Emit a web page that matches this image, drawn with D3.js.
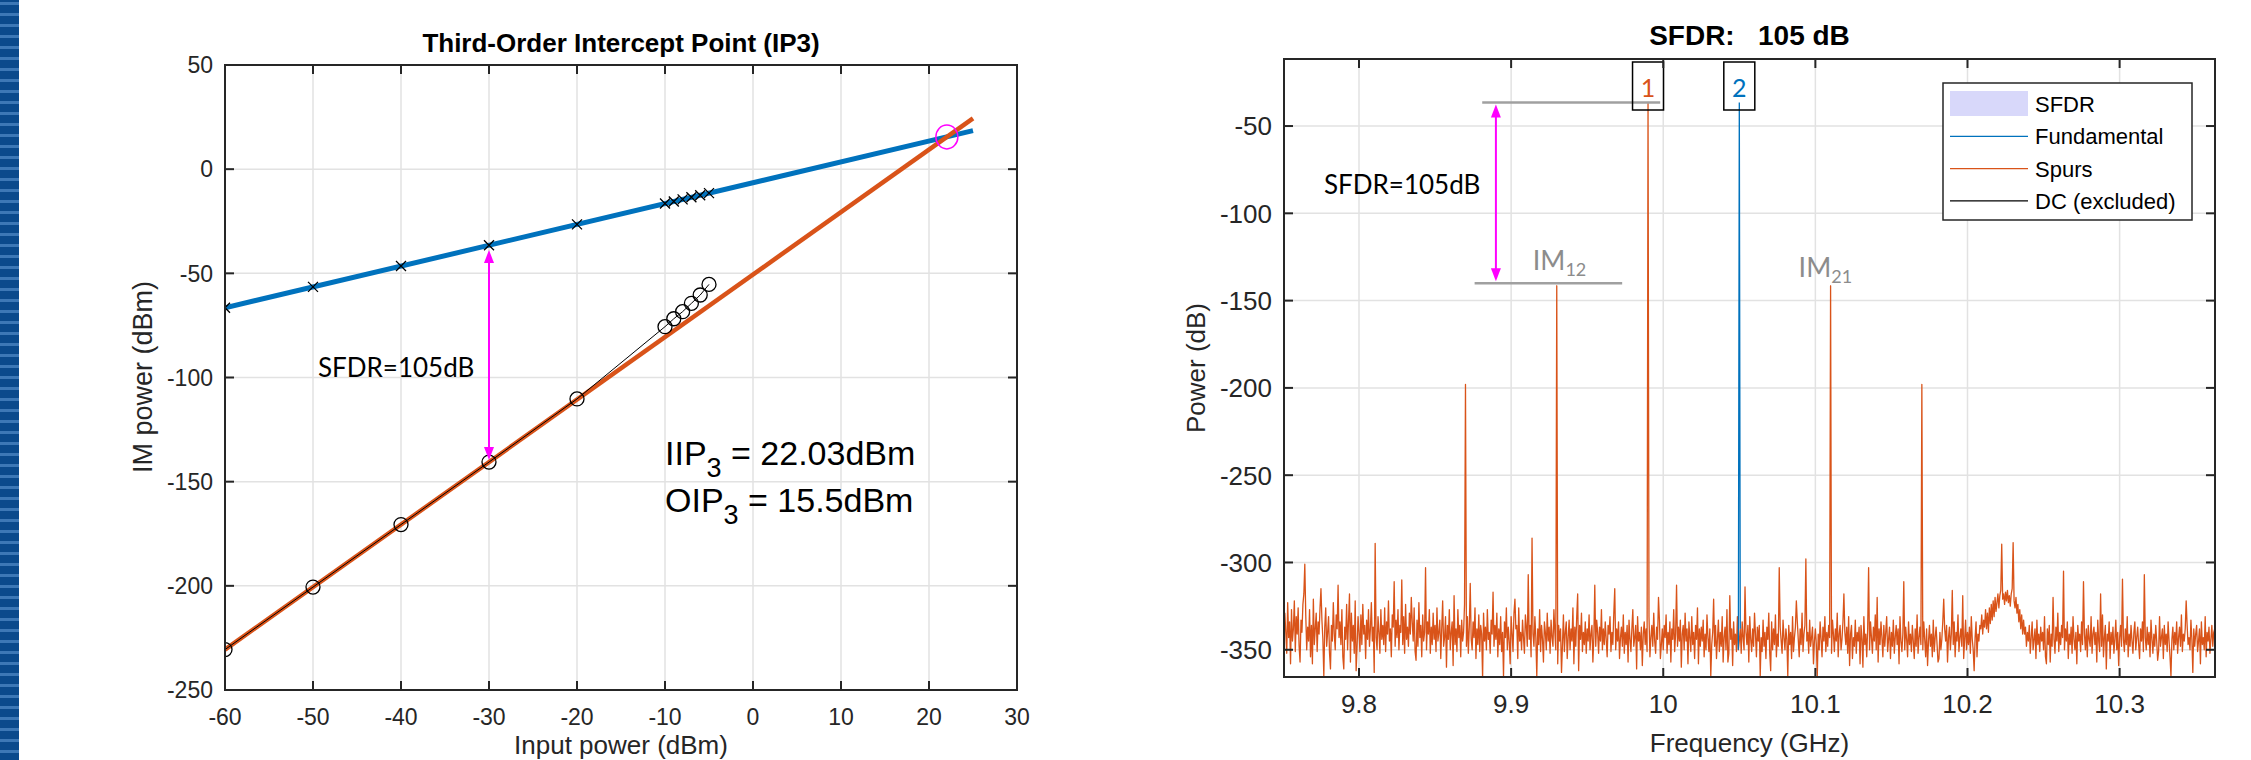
<!DOCTYPE html>
<html>
<head>
<meta charset="utf-8">
<script src="https://cdn.jsdelivr.net/npm/d3@7"></script>
<style>
  body { margin: 0; background: #fff; }
  svg { display: block; font-family: "Liberation Sans", Arial, sans-serif; }
  .grid line { stroke: #e2e2e2; stroke-width: 1.5; }
  .tick-lbl { fill: #262626; }
  .note { font-family: Lato, "Open Sans", sans-serif; }
</style>
</head>
<body>
<div id="chart"></div>
<script>

// ---------- left panel: IP3 ----------
var ip3XTicks = [-60, -50, -40, -30, -20, -10, 0, 10, 20, 30];
var ip3YTicks = [-250, -200, -150, -100, -50, 0, 50];

// measured points
var inputPower = [-60, -50, -40, -30, -20, -10, -9, -8, -7, -6, -5];
var fundPower  = [-66.5, -56.5, -46.5, -36.5, -26.5, -16.5, -15.5, -14.5, -13.5, -12.5, -11.5];
var im3Power   = [-230.6, -200.6, -170.6, -140.6, -110.3, -75.6, -71.8, -68.4, -64.4, -60.4, -55.3];

// fitted lines (end points)
var fitInput  = [-60, 25];
var fundFit   = [-66.53, 18.47];
var im3Fit    = [-230.59, 24.41];

var iip3 = 22.03, oip3 = 15.5;
var sfdrInput = -30, sfdrTop = -38.8, sfdrBottom = -139.6;

// ---------- right panel: spectrum ----------
var specXTicks = [9.8, 9.9, 10, 10.1, 10.2, 10.3];
var specYTicks = [-350, -300, -250, -200, -150, -100, -50];

var freqStart = 9.75, freqStep = 0.000625;
var noiseFloor = [
  -336,-347,-329,-340,-352,-323,-343,-334,-358,-327,-345,-338,-322,-351,-331,-341,-326,-348,-357,-333,
  -340,-324,-318,-301,-330,-350,-337,-345,-327,-354,-336,-358,-321,-347,-338,-329,-351,-334,-341,-326,
  -315,-333,-344,-365,-337,-326,-348,-340,-331,-352,-361,-336,-345,-323,-341,-350,-330,-338,-313,-343,
  -334,-347,-327,-354,-361,-337,-344,-324,-350,-333,-318,-357,-329,-345,-336,-352,-322,-362,-348,-331,
  -340,-351,-330,-347,-324,-341,-336,-355,-333,-344,-327,-348,-338,-323,-345,-337,-363,-289,-343,-350,
  -331,-340,-352,-327,-344,-336,-347,-326,-351,-334,-341,-322,-345,-338,-354,-330,-337,-311,-348,-333,
  -343,-327,-350,-336,-340,-310,-347,-331,-352,-324,-344,-337,-348,-329,-341,-320,-334,-345,-326,-351,
  -356,-333,-348,-323,-343,-336,-354,-330,-345,-340,-303,-350,-334,-341,-327,-352,-337,-347,-329,-344,
  -336,-351,-326,-345,-340,-333,-355,-338,-322,-348,-343,-331,-360,-336,-344,-327,-350,-340,-334,-359,
  -319,-347,-338,-351,-327,-343,-336,-354,-333,-345,-340,-324,-341,-348,-331,-352,-337,-312,-344,-350,
  -334,-343,-326,-355,-338,-347,-330,-351,-336,-341,-366,-329,-345,-337,-350,-327,-344,-340,-352,-333,
  -341,-317,-348,-336,-344,-329,-354,-338,-347,-331,-351,-340,-365,-334,-343,-326,-350,-337,-345,-358,
  -331,-341,-351,-329,-321,-338,-336,-355,-326,-345,-340,-350,-333,-343,-352,-330,-337,-348,-307,-344,
  -336,-354,-286,-341,-348,-331,-343,-365,-338,-347,-327,-351,-336,-344,-357,-334,-340,-350,-329,-345,
  -337,-352,-333,-343,-348,-327,-340,-350,-341,-358,-336,-345,-338,-363,-347,-330,-351,-340,-334,-355,
  -343,-333,-350,-338,-345,-326,-358,-337,-348,-331,-318,-362,-336,-344,-329,-351,-340,-347,-334,-352,
  -338,-345,-330,-350,-341,-336,-357,-343,-313,-348,-333,-340,-352,-337,-345,-327,-350,-338,-347,-334,
  -344,-354,-336,-341,-331,-351,-340,-347,-329,-315,-350,-338,-345,-334,-355,-343,-337,-348,-330,-352,
  -340,-347,-336,-357,-333,-344,-351,-338,-327,-348,-343,-336,-361,-331,-345,-340,-350,-337,-359,-341,
  -334,-347,-338,-351,-341,-331,-354,-343,-336,-348,-329,-345,-352,-337,-344,-320,-333,-355,-347,-338,
  -350,-336,-343,-330,-352,-340,-347,-334,-357,-338,-344,-327,-351,-341,-313,-348,-337,-345,-333,-360,
  -341,-336,-350,-329,-345,-338,-358,-334,-343,-351,-331,-347,-340,-355,-336,-344,-326,-358,-338,-348,
  -337,-345,-333,-354,-341,-350,-330,-343,-351,-338,-365,-347,-340,-321,-348,-336,-355,-344,-333,-351,
  -340,-348,-331,-357,-343,-337,-350,-327,-357,-352,-319,-344,-338,-359,-334,-347,-341,-351,-331,-350,
  -345,-338,-352,-334,-343,-350,-314,-340,-347,-336,-357,-331,-344,-351,-338,-348,-329,-341,-354,-337,
  -345,-336,-365,-343,-351,-333,-348,-340,-355,-337,-344,-329,-352,-362,-334,-350,-338,-347,-330,-354,
  -341,-348,-303,-337,-345,-352,-333,-343,-350,-338,-344,-365,-336,-347,-340,-355,-331,-351,-343,-337,
  -322,-334,-344,-354,-338,-347,-329,-351,-341,-336,-298,-345,-340,-352,-333,-348,-343,-337,-358,-345,
  -338,-347,-365,-341,-350,-334,-344,-354,-337,-345,-331,-351,-340,-348,-336,-343,-347,-352,-333,-341,
  -351,-338,-345,-329,-354,-341,-336,-350,-344,-334,-318,-340,-347,-337,-352,-331,-359,-341,-336,-355,
  -343,-348,-333,-352,-340,-345,-337,-358,-336,-344,-360,-331,-347,-341,-354,-338,-303,-350,-334,-343,
  -352,-337,-345,-330,-350,-320,-357,-338,-347,-334,-343,-354,-336,-348,-340,-331,-351,-344,-337,-355,
  -340,-348,-333,-352,-343,-336,-347,-338,-358,-331,-345,-351,-341,-311,-350,-337,-344,-354,-334,-347,
  -341,-351,-336,-345,-355,-338,-348,-330,-352,-343,-337,-347,-340,-350,-334,-344,-354,-338,-359,-345,
  -336,-348,-341,-354,-333,-351,-343,-337,-347,-357,-355,-340,-350,-344,-334,-321,-338,-345,-336,-357,
  -343,-337,-350,-341,-316,-347,-334,-354,-340,-345,-330,-351,-343,-338,-348,-319,-355,-344,-333,-350,
  -340,-347,-337,-352,-331,-344,-350,-362,-343,-334,-354,-341,-345,-336,-338,-330,-341,-333,-337,-327,
  -338,-329,-340,-326,-335,-324,-333,-322,-331,-320,-328,-323,-318,-326,-319,-316,-289.5,-321,-318,-324,
  -317,-322,-316,-323,-319,-325,-318,-315,-288.6,-322,-326,-320,-329,-324,-334,-327,-338,-330,-341,-333,
  -341,-337,-348,-340,-345,-336,-352,-343,-334,-350,-344,-338,-355,-333,-347,-341,-351,-337,-345,-340,
  -350,-331,-354,-358,-338,-347,-336,-357,-341,-348,-320,-344,-352,-337,-345,-329,-351,-340,-347,-336,
  -343,-305,-350,-338,-345,-334,-355,-341,-347,-337,-352,-331,-344,-350,-340,-358,-336,-345,-341,-351,
  -334,-347,-311,-341,-350,-338,-354,-336,-344,-348,-331,-352,-341,-337,-347,-340,-357,-333,-345,-351,
  -318,-348,-330,-354,-343,-336,-361,-341,-345,-334,-355,-340,-347,-337,-352,-344,-333,-350,-340,-359,
  -343,-336,-348,-309.5,-344,-351,-338,-347,-331,-354,-341,-348,-336,-345,-352,-340,-334,-350,-343,-337,
  -347,-355,-338,-345,-334,-351,-307,-343,-350,-337,-347,-340,-354,-333,-344,-352,-341,-348,-336,-345,
  -356,-351,-331,-348,-343,-338,-355,-336,-347,-341,-351,-334,-345,-354,-365,-344,-337,-350,-340,-347,
  -334,-352,-343,-337,-348,-330,-351,-341,-345,-338,-322,-336,-347,-343,-350,-333,-344,-363,-338,-348,
  -341,-336,-351,-345,-338,-358,-334,-347,-343,-350,-331,-354,-340,-345,-337,-352,-344,-336,-348,-340,
  -338
];

var spurFreqs  = [9.87, 9.93, 9.99, 10.11, 10.17];
var spurLevels = [-198, -141.5, -36.5, -141.5, -198];
var fundFreqs  = [10.05];
var fundLevels = [-36.5];

var imLabels = ["12", "21"];
var imLabelFreqs = [9.93, 10.11];

var sfdrArrowFreq = 9.89;
var sfdrTopLine = [9.881, 9.998];
var sfdrBottomLine = [9.876, 9.973];
var sfdrTopLevel = -36.5, sfdrBottomLevel = -140;

var legendNames = ["SFDR", "Fundamental", "Spurs", "DC (excluded)"];

var blue = "#0072BD", orange = "#D95319", magenta = "#FF00FF";

var W = 2251, H = 760;
var svg = d3.select("#chart").append("svg")
    .attr("width", W).attr("height", H);

// striped bar on the far left
var stripe = svg.append("g");
stripe.append("rect").attr("x", 0).attr("y", 0).attr("width", 19).attr("height", H).attr("fill", "#0b4a8c");
stripe.selectAll("rect.s").data(d3.range(2, H, 11)).enter().append("rect")
    .attr("class", "s")
    .attr("x", 0).attr("y", function(d) { return d; })
    .attr("width", 19).attr("height", 3)
    .attr("fill", "#3d78b6");

// draw box, grid, ticks (matlab style)
function frame(g, x, y, xTicks, yTicks, fs, xfmt) {
    var x0 = x.range()[0], x1 = x.range()[1];
    var y0 = y.range()[0], y1 = y.range()[1];
    var grid = g.append("g").attr("class", "grid");
    grid.selectAll("line.v").data(xTicks).enter().append("line")
        .attr("x1", x).attr("x2", x).attr("y1", y0).attr("y2", y1);
    grid.selectAll("line.h").data(yTicks).enter().append("line")
        .attr("y1", y).attr("y2", y).attr("x1", x0).attr("x2", x1);
    return function() {
        var f = g.append("g");
        var tl = 9;
        xTicks.forEach(function(t) {
            f.append("line").attr("x1", x(t)).attr("x2", x(t)).attr("y1", y0).attr("y2", y0 - tl)
                .attr("stroke", "#262626").attr("stroke-width", 2);
            f.append("line").attr("x1", x(t)).attr("x2", x(t)).attr("y1", y1).attr("y2", y1 + tl)
                .attr("stroke", "#262626").attr("stroke-width", 2);
            f.append("text").attr("class", "tick-lbl")
                .attr("x", x(t)).attr("y", y0 + 27 + fs * 0.36)
                .attr("text-anchor", "middle").attr("font-size", fs)
                .text(xfmt ? xfmt(t) : t);
        });
        yTicks.forEach(function(t) {
            f.append("line").attr("x1", x0).attr("x2", x0 + tl).attr("y1", y(t)).attr("y2", y(t))
                .attr("stroke", "#262626").attr("stroke-width", 2);
            f.append("line").attr("x1", x1).attr("x2", x1 - tl).attr("y1", y(t)).attr("y2", y(t))
                .attr("stroke", "#262626").attr("stroke-width", 2);
            f.append("text").attr("class", "tick-lbl")
                .attr("x", x0 - 12).attr("y", y(t) + fs * 0.36)
                .attr("text-anchor", "end").attr("font-size", fs)
                .text(t);
        });
        f.append("rect").attr("x", x0).attr("y", y1).attr("width", x1 - x0).attr("height", y0 - y1)
            .attr("fill", "none").attr("stroke", "#262626").attr("stroke-width", 2);
    };
}

function arrowHead(g, px, py, dir, col) {
    // dir = -1 points up, 1 points down
    g.append("path")
        .attr("d", "M" + px + "," + py + " L" + (px - 5) + "," + (py - dir * 13) + " L" + (px + 5) + "," + (py - dir * 13) + " Z")
        .attr("fill", col);
}

// ================= left panel =================
var gL = svg.append("g");
var xL = d3.scaleLinear().domain([-60, 30]).range([225, 1017]);
var yL = d3.scaleLinear().domain([-250, 50]).range([690, 65]);
var finishL = frame(gL, xL, yL, ip3XTicks, ip3YTicks, 23);

svg.append("clipPath").attr("id", "clipL").append("rect")
    .attr("x", 225).attr("y", 65).attr("width", 792).attr("height", 625);
var plotL = gL.append("g").attr("clip-path", "url(#clipL)");

var lineL = d3.line().x(function(d) { return xL(d[0]); }).y(function(d) { return yL(d[1]); });

plotL.append("path").datum(d3.zip(fitInput, fundFit)).attr("d", lineL)
    .attr("fill", "none").attr("stroke", blue).attr("stroke-width", 5);
plotL.append("path").datum(d3.zip(fitInput, im3Fit)).attr("d", lineL)
    .attr("fill", "none").attr("stroke", orange).attr("stroke-width", 4.5);

// measured data
plotL.append("path").datum(d3.zip(inputPower, im3Power)).attr("d", lineL)
    .attr("fill", "none").attr("stroke", "#000").attr("stroke-width", 1);
plotL.selectAll("circle.m").data(d3.zip(inputPower, im3Power)).enter().append("circle")
    .attr("cx", function(d) { return xL(d[0]); })
    .attr("cy", function(d) { return yL(d[1]); })
    .attr("r", 7).attr("fill", "none").attr("stroke", "#000").attr("stroke-width", 1.3);
plotL.selectAll("g.xm").data(d3.zip(inputPower, fundPower)).enter().append("path")
    .attr("d", function(d) {
        var cx = xL(d[0]), cy = yL(d[1]), s = 5;
        return "M" + (cx - s) + "," + (cy - s) + "L" + (cx + s) + "," + (cy + s) +
               "M" + (cx - s) + "," + (cy + s) + "L" + (cx + s) + "," + (cy - s);
    })
    .attr("stroke", "#000").attr("stroke-width", 1.3);

// intercept point
plotL.append("ellipse").attr("cx", xL(iip3)).attr("cy", yL(oip3)).attr("rx", 11).attr("ry", 12)
    .attr("fill", "none").attr("stroke", magenta).attr("stroke-width", 1.5);

// SFDR arrow
plotL.append("line").attr("x1", xL(sfdrInput)).attr("x2", xL(sfdrInput))
    .attr("y1", yL(sfdrTop) + 6).attr("y2", yL(sfdrBottom) - 6)
    .attr("stroke", magenta).attr("stroke-width", 2);
arrowHead(plotL, xL(sfdrInput), yL(sfdrTop), -1, magenta);
arrowHead(plotL, xL(sfdrInput), yL(sfdrBottom), 1, magenta);

gL.append("text").attr("class", "note").attr("x", 318).attr("y", 377)
    .attr("font-size", 26).attr("fill", "#000").text("SFDR=105dB");

var ipTxt = gL.append("text").attr("x", 665).attr("y", 465).attr("font-size", 34).attr("fill", "#000");
ipTxt.append("tspan").text("IIP");
ipTxt.append("tspan").attr("dy", 12).attr("font-size", 27).text("3");
ipTxt.append("tspan").attr("dy", -12).text(" = " + iip3.toFixed(2) + "dBm");
var opTxt = gL.append("text").attr("x", 665).attr("y", 512).attr("font-size", 34).attr("fill", "#000");
opTxt.append("tspan").text("OIP");
opTxt.append("tspan").attr("dy", 12).attr("font-size", 27).text("3");
opTxt.append("tspan").attr("dy", -12).text(" = " + oip3 + "dBm");

finishL();

gL.append("text").attr("x", 621).attr("y", 52).attr("text-anchor", "middle")
    .attr("font-size", 26).attr("font-weight", "bold").attr("fill", "#000")
    .text("Third-Order Intercept Point (IP3)");
gL.append("text").attr("x", 621).attr("y", 754).attr("text-anchor", "middle")
    .attr("font-size", 26).attr("fill", "#262626").text("Input power (dBm)");
gL.append("text").attr("transform", "translate(152,377) rotate(-90)").attr("text-anchor", "middle")
    .attr("font-size", 27).attr("fill", "#262626").text("IM power (dBm)");

// ================= right panel =================
var gR = svg.append("g");
var xR = d3.scaleLinear().domain([9.7507, 10.3627]).range([1284, 2215]);
var yR = d3.scaleLinear().domain([-365.6, -11.6]).range([677, 59]);
var finishR = frame(gR, xR, yR, specXTicks, specYTicks, 26, function(t) { return d3.format("")(t); });

svg.append("clipPath").attr("id", "clipR").append("rect")
    .attr("x", 1284).attr("y", 59).attr("width", 931).attr("height", 618);
var plotR = gR.append("g").attr("clip-path", "url(#clipR)");

var spectrum = noiseFloor.map(function(v, i) { return { f: freqStart + i * freqStep, p: v }; });
spurFreqs.forEach(function(f, k) {
    var i = Math.round((f - freqStart) / freqStep);
    spectrum[i].p = spurLevels[k];
});
var fundTrace = [];
fundFreqs.forEach(function(f, k) {
    var i = Math.round((f - freqStart) / freqStep);
    fundTrace.push(spectrum[i - 1], { f: spectrum[i].f, p: fundLevels[k] }, spectrum[i + 1]);
});

var lineR = d3.line().x(function(d) { return xR(d.f); }).y(function(d) { return yR(d.p); });
plotR.append("path").datum(spectrum).attr("d", lineR)
    .attr("fill", "none").attr("stroke", orange).attr("stroke-width", 1.3).attr("stroke-linejoin", "round");
plotR.append("path").datum(fundTrace).attr("d", lineR)
    .attr("fill", "none").attr("stroke", blue).attr("stroke-width", 1.3);

// SFDR annotation
plotR.append("line").attr("x1", xR(sfdrTopLine[0])).attr("x2", xR(sfdrTopLine[1]))
    .attr("y1", yR(sfdrTopLevel)).attr("y2", yR(sfdrTopLevel))
    .attr("stroke", "#a0a0a0").attr("stroke-width", 2.5);
plotR.append("line").attr("x1", xR(sfdrBottomLine[0])).attr("x2", xR(sfdrBottomLine[1]))
    .attr("y1", yR(sfdrBottomLevel)).attr("y2", yR(sfdrBottomLevel))
    .attr("stroke", "#a0a0a0").attr("stroke-width", 2.5);
var ax = xR(sfdrArrowFreq);
plotR.append("line").attr("x1", ax).attr("x2", ax)
    .attr("y1", yR(sfdrTopLevel) + 8).attr("y2", yR(sfdrBottomLevel) - 8)
    .attr("stroke", magenta).attr("stroke-width", 2);
arrowHead(plotR, ax, yR(sfdrTopLevel) + 2, -1, magenta);
arrowHead(plotR, ax, yR(sfdrBottomLevel) - 2, 1, magenta);
gR.append("text").attr("class", "note").attr("x", 1324).attr("y", 194)
    .attr("font-size", 26).attr("fill", "#000").text("SFDR=105dB");

// IM labels
imLabels.forEach(function(lbl, k) {
    var t = gR.append("text").attr("class", "note")
        .attr("x", xR(imLabelFreqs[k]) - (k === 0 ? 24 : 32)).attr("y", k === 0 ? 270 : 277)
        .attr("font-size", 27).attr("fill", "#8c8c8c");
    t.append("tspan").text("IM");
    t.append("tspan").attr("font-size", 18).attr("dy", 6).text(lbl);
});

// numbered boxes on the two tones
[[spurFreqs[2], "1", orange], [fundFreqs[0], "2", blue]].forEach(function(b) {
    var cx = xR(b[0]);
    gR.append("rect").attr("x", cx - 15.5).attr("y", 62).attr("width", 31).attr("height", 48)
        .attr("fill", "none").attr("stroke", "#000").attr("stroke-width", 1.5);
    gR.append("text").attr("class", "note").attr("x", cx).attr("y", 97).attr("text-anchor", "middle")
        .attr("font-size", 25).attr("fill", b[2]).text(b[1]);
});

finishR();

// legend
var lg = gR.append("g").attr("transform", "translate(1943,83)");
lg.append("rect").attr("width", 249).attr("height", 137).attr("fill", "#fff")
    .attr("stroke", "#262626").attr("stroke-width", 1.5);
var legendColors = ["#d8d8fa", blue, orange, "#000"];
legendNames.forEach(function(n, i) {
    var cy = 21 + i * 32.3;
    if (i === 0) {
        lg.append("rect").attr("x", 7).attr("y", cy - 13).attr("width", 78).attr("height", 25)
            .attr("fill", legendColors[i]);
    } else {
        lg.append("line").attr("x1", 7).attr("x2", 85).attr("y1", cy).attr("y2", cy)
            .attr("stroke", legendColors[i]).attr("stroke-width", 1.3);
    }
    lg.append("text").attr("x", 92).attr("y", cy + 8).attr("font-size", 22).attr("fill", "#000").text(n);
});

gR.append("text").attr("x", 1749.5).attr("y", 45).attr("text-anchor", "middle")
    .attr("font-size", 28).attr("font-weight", "bold").attr("fill", "#000")
    .style("white-space", "pre")
    .text("SFDR:   105 dB");
gR.append("text").attr("x", 1749.5).attr("y", 752).attr("text-anchor", "middle")
    .attr("font-size", 26).attr("fill", "#262626").text("Frequency (GHz)");
gR.append("text").attr("transform", "translate(1205,368) rotate(-90)").attr("text-anchor", "middle")
    .attr("font-size", 26).attr("fill", "#262626").text("Power (dB)");

</script>
</body>
</html>
